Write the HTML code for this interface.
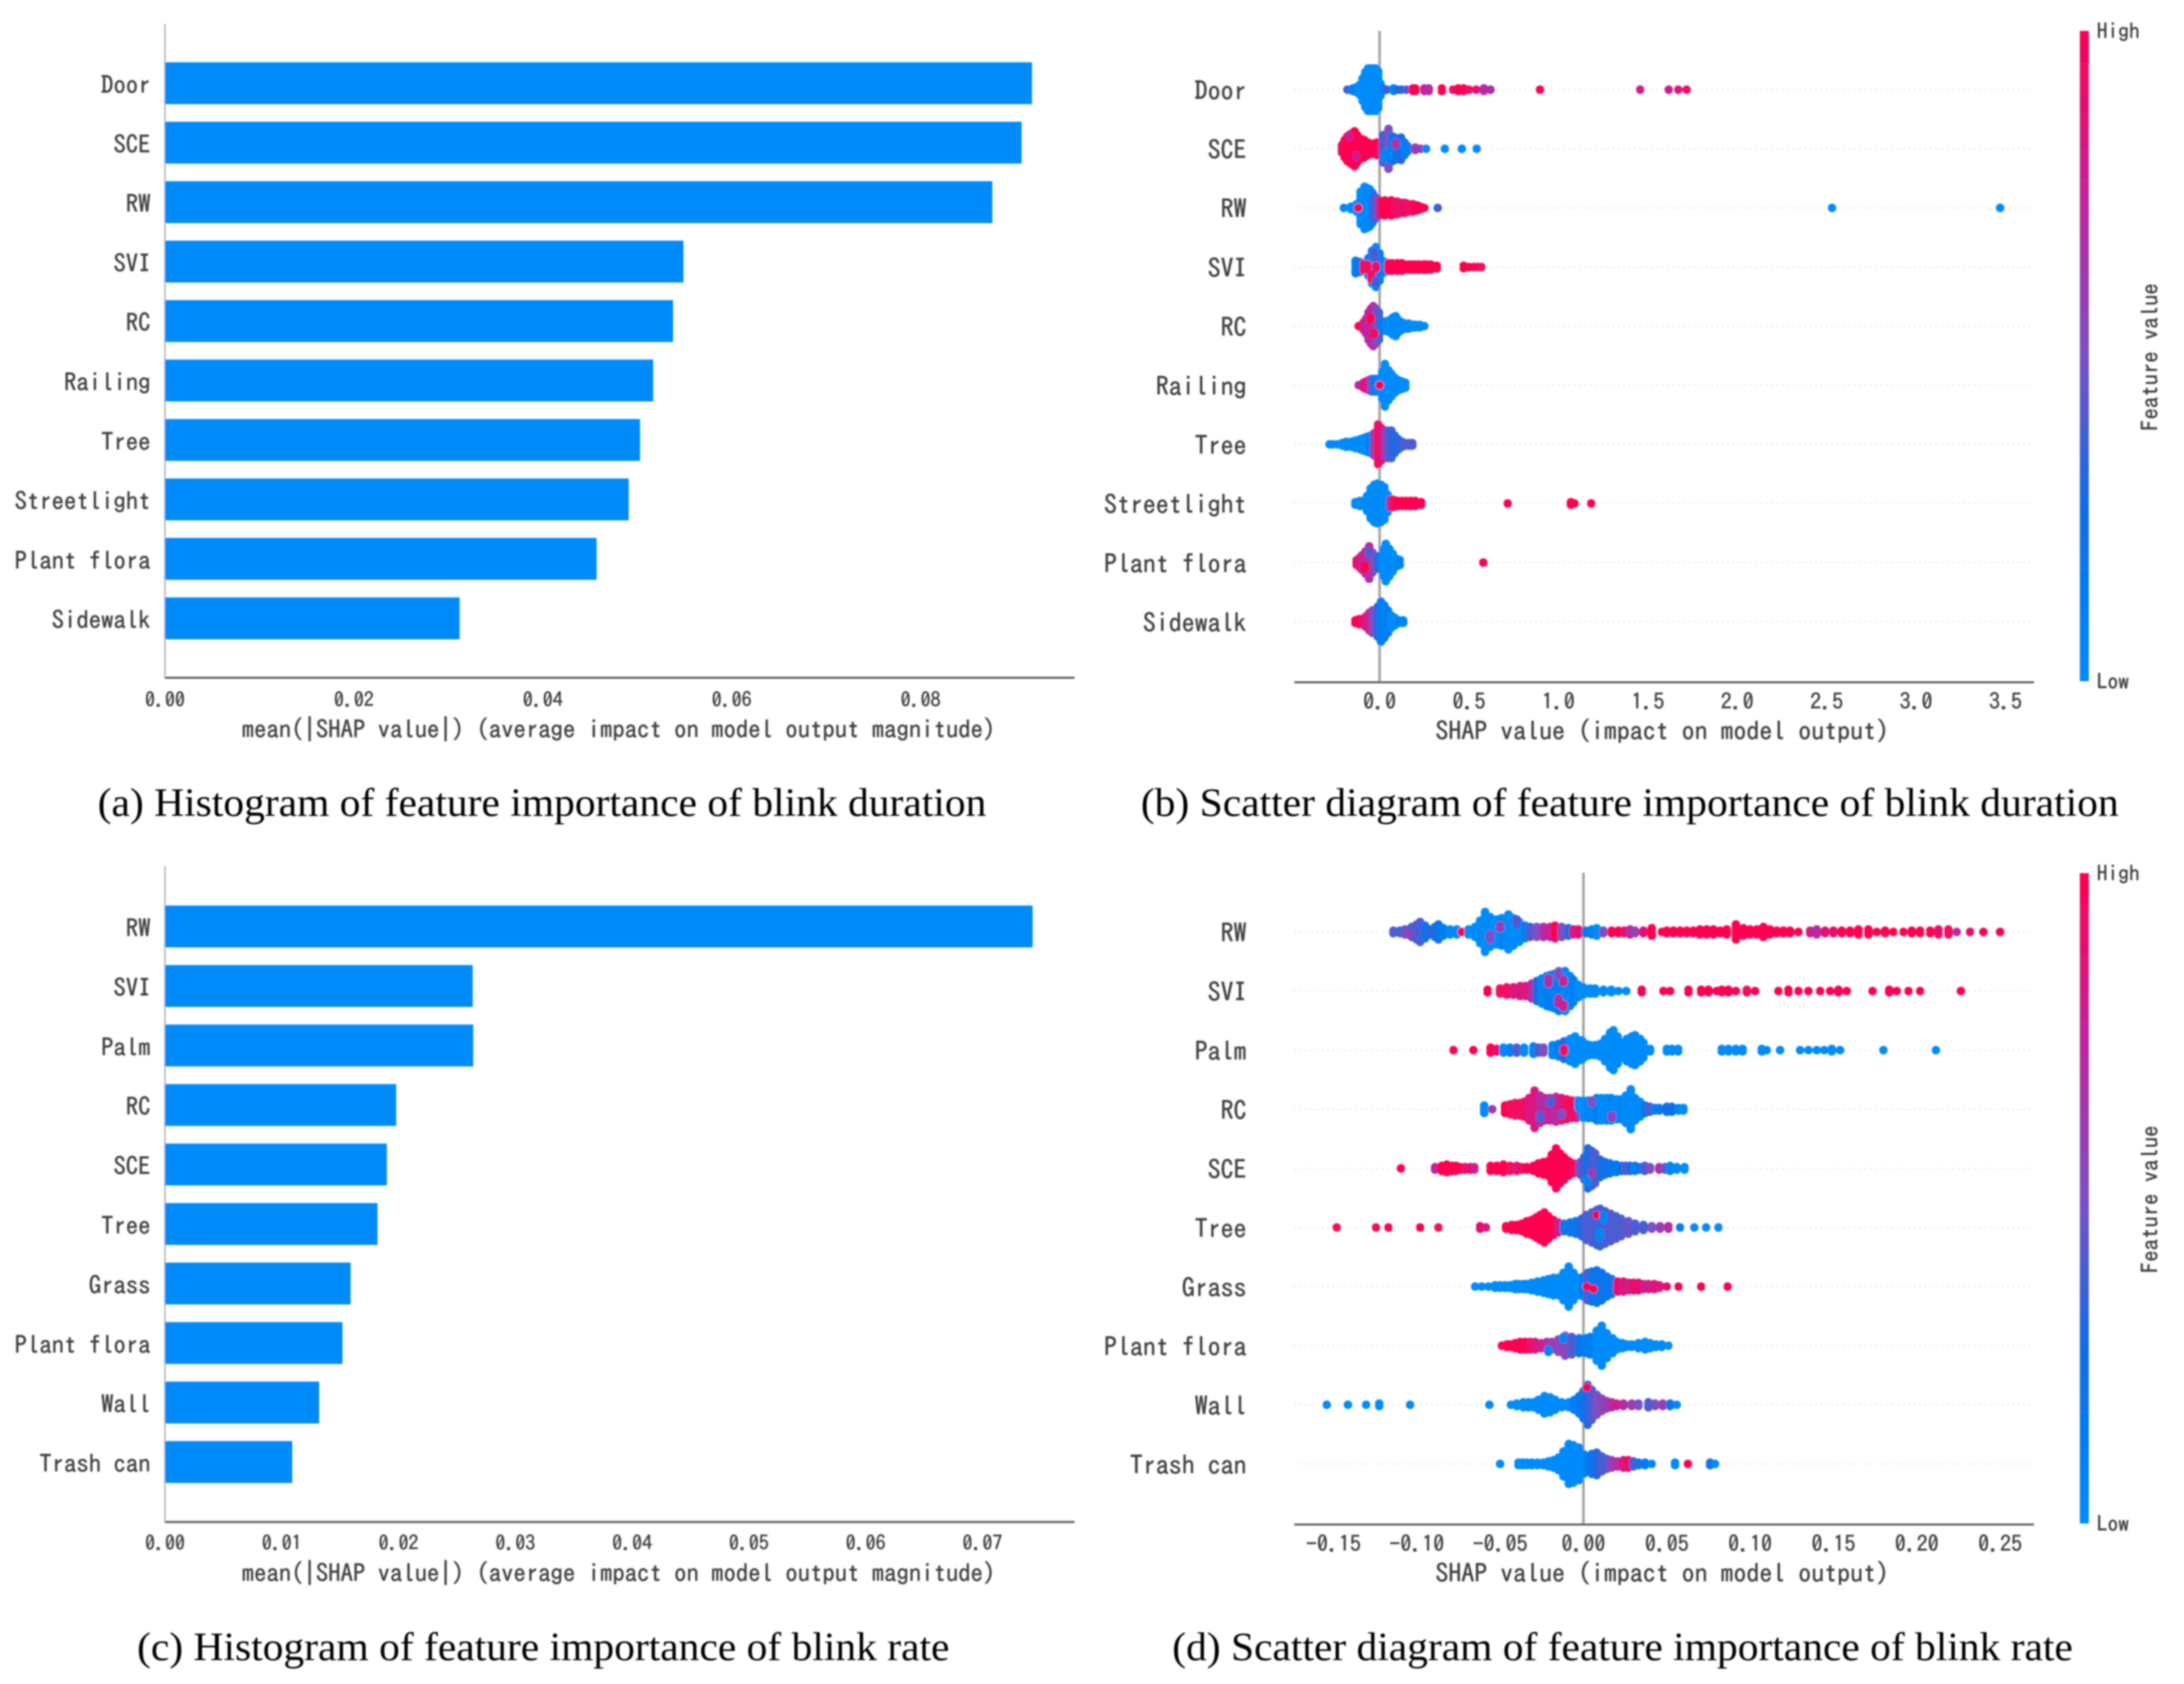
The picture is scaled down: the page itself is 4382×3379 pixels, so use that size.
<!DOCTYPE html>
<html>
<head>
<meta charset="utf-8">
<title>SHAP feature importance of blink duration and blink rate</title>
<style>
html,body{margin:0;padding:0;background:#fff;width:4382px;height:3379px;overflow:hidden}
svg{display:block}
.lab{font-family:"IPAGothic","WenQuanYi Zen Hei","Liberation Mono",monospace;fill:#404040;stroke:#404040;stroke-width:.8px}
.cap{font-family:"Liberation Serif",serif;font-size:80px;fill:#000}
</style>
</head>
<body>
<svg id="figure" xmlns="http://www.w3.org/2000/svg" width="4382" height="3379" viewBox="0 0 4382 3379">
<defs>
<linearGradient id="cbar" x1="0" y1="1" x2="0" y2="0">
<stop offset="0" stop-color="#008bfb"/><stop offset="0.25" stop-color="#0a6ee8"/><stop offset="0.5" stop-color="#7c4fc4"/><stop offset="0.75" stop-color="#c4239a"/><stop offset="1" stop-color="#ff0051"/>
</linearGradient>
<filter id="soft" x="-2%" y="-2%" width="104%" height="104%"><feGaussianBlur stdDeviation="1.6"/></filter>
</defs>
<g id="root" filter="url(#soft)">
<text class="lab" x="1241" y="1481" font-size="49.6" text-anchor="middle" textLength="1512" lengthAdjust="spacingAndGlyphs">mean(|SHAP value|) (average impact on model output magnitude)</text>
<text class="lab" x="1241" y="3174" font-size="49.6" text-anchor="middle" textLength="1512" lengthAdjust="spacingAndGlyphs">mean(|SHAP value|) (average impact on model output magnitude)</text>
<text class="lab" x="3335" y="1485" font-size="51" text-anchor="middle" textLength="910" lengthAdjust="spacingAndGlyphs">SHAP value (impact on model output)</text>
<text class="lab" x="3335" y="3175" font-size="51" text-anchor="middle" textLength="910" lengthAdjust="spacingAndGlyphs">SHAP value (impact on model output)</text>
<text class="cap" x="196" y="1637" textLength="1783" lengthAdjust="spacingAndGlyphs">(a) Histogram of feature importance of blink duration</text>
<text class="cap" x="2289" y="1637" textLength="1962" lengthAdjust="spacingAndGlyphs">(b) Scatter diagram of feature importance of blink duration</text>
<text class="cap" x="275" y="3331" textLength="1630" lengthAdjust="spacingAndGlyphs">(c) Histogram of feature importance of blink rate</text>
<text class="cap" x="2352" y="3331" textLength="1807" lengthAdjust="spacingAndGlyphs">(d) Scatter diagram of feature importance of blink rate</text>
</g>
</svg>
<script>
const panelACategories = ["Door","SCE","RW","SVI","RC","Railing","Tree","Streetlight","Plant flora","Sidewalk"];
const panelAValues = [0.0918,0.0907,0.0876,0.0549,0.0538,0.0517,0.0503,0.0491,0.0457,0.0312];
const panelATicks = [0,0.02,0.04,0.06,0.08];
const panelATickLabels = ["0.00","0.02","0.04","0.06","0.08"];

const panelCCategories = ["RW","SVI","Palm","RC","SCE","Tree","Grass","Plant flora","Wall","Trash can"];
const panelCValues = [0.0743,0.02635,0.0264,0.0198,0.0190,0.0182,0.0159,0.0152,0.0132,0.0109];
const panelCTicks = [0,0.01,0.02,0.03,0.04,0.05,0.06,0.07];
const panelCTickLabels = ["0.00","0.01","0.02","0.03","0.04","0.05","0.06","0.07"];

const panelBCategories = ["Door","SCE","RW","SVI","RC","Railing","Tree","Streetlight","Plant flora","Sidewalk"];
const panelBTicks = [0,0.5,1,1.5,2,2.5,3,3.5];
const panelBTickLabels = ["0.0","0.5","1.0","1.5","2.0","2.5","3.0","3.5"];
/* each point group: [shap value, dots stacked in the swarm, feature value 0-1, optional swarm layer] */
const panelBDoor = [[-0.18,1,.35],[-0.15,2,.1],[-0.13,3,.05],[-0.11,5,0],[-0.095,10,0],[-0.08,15,0],[-0.065,18,0],[-0.05,18,0],[-0.035,18,0],[-0.02,18,0],[-0.008,16,0],[0.005,6,0],[0.02,2,.1],[0.04,1,.35],[0.078,2,.05],[0.1,1,.3],[0.122,1,.3],[0.15,1,.4],[0.186,2,1],[0.2,2,1],[0.25,2,.75],[0.275,2,.7],[0.348,2,1],[0.41,1,.95],[0.44,2,1],[0.47,2,1],[0.5,1,.95],[0.54,1,.9],[0.583,2,.7],[0.62,1,.7],[0.897,1,1],[1.457,1,.8],[1.617,1,.8],[1.67,1,.85],[1.717,1,.95]];
const panelBSCE = [[-0.21,4,.9],[-0.195,8,1],[-0.18,11,1],[-0.16,13,1],[-0.14,15,1],[-0.125,12,1],[-0.105,9,1],[-0.085,8,1],[-0.065,6,1],[-0.04,5,1],[-0.015,6,1],[0,5,.95],[0.02,12,.4],[0.05,17,.5],[0.07,11,.2],[0.085,10,.25],[0.1,9,.2],[0.12,10,.3],[0.14,6,.1],[0.157,3,.1],[0.2,2,.6],[0.23,1,.6],[0.26,1,0],[0.365,1,0],[0.46,1,0],[0.543,1,0],[0.05,3,.05,2],[0.09,2,.65,-2],[0.03,3,.05,3],[-0.17,2,.8,-5],[-0.13,2,.8,3]];
const panelBRW = [[-0.2,1,0],[-0.16,2,0],[-0.128,4,0],[-0.106,14,0],[-0.084,18,0],[-0.07,17,0],[-0.055,16,0],[-0.04,13,.1],[-0.027,10,.35],[-0.01,8,.5],[0,7,.7],[0.015,6,1],[0.03,7,1],[0.045,6,1],[0.065,7,1],[0.085,6,.95],[0.1,6,.95],[0.125,5,.9],[0.143,5,.9],[0.165,4,.95],[0.186,4,.95],[0.21,3,1],[0.228,2,1],[0.25,1,1],[0.325,1,.35],[-0.12,1,1],[2.53,1,0],[3.47,1,0]];
const panelBSVI = [[-0.134,6,.1],[-0.11,5,.2],[-0.087,4,.95],[-0.063,8,.1],[-0.042,14,.1],[-0.02,17,.05],[0,12,.1],[0.015,6,.1],[0.03,5,.1],[-0.07,3,.95,0],[-0.02,2,.9,0],[-0.03,3,.4,-5],[-0.045,3,.95,4],[-0.02,2,.35,6],[0.05,4,1],[0.07,4,1],[0.1,4,1],[0.125,4,1],[0.14,3,1],[0.165,3,1],[0.18,3,1],[0.2,3,1],[0.22,3,1],[0.245,3,1],[0.26,3,1],[0.285,3,1],[0.3,2,1],[0.32,2,1],[0.47,2,1],[0.5,1,1],[0.527,1,1],[0.55,1,1],[0.57,1,.95]];
const panelBRC = [[-0.117,1,1],[-0.09,4,.8],[-0.075,7,.8],[-0.062,12,.7],[-0.048,15,.75],[-0.035,17,.7],[-0.02,15,.55],[-0.004,12,.4],[0.012,5,.2],[0.027,4,.1],[0.042,5,0],[0.058,6,0],[0.075,8,0],[0.09,9,0],[0.105,6,0],[0.125,4,0],[0.145,3,0],[0.163,3,0],[0.185,2,0],[0.2,2,0],[0.225,2,0],[0.25,1,0],[-0.05,2,1,-3],[-0.03,2,.95,3]];
const panelBRailing = [[-0.117,1,.7],[-0.09,3,.85],[-0.075,4,.85],[-0.06,5,.8],[-0.045,6,.5],[-0.03,6,.2],[-0.012,6,.05],[0,6,.05],[0.015,12,0],[0.03,18,0],[0.05,13,0],[0.066,10,0],[0.085,7,0],[0.105,5,0],[0.125,4,0],[0.144,3,0],[0,1,1]];
const panelBTree = [[-0.28,1,0],[-0.265,1,0],[-0.24,1,0],[-0.21,2,0],[-0.187,3,0],[-0.16,3,0],[-0.136,4,0],[-0.11,5,0],[-0.09,6,0],[-0.07,7,0],[-0.05,8,.1],[-0.03,10,.6],[-0.008,17,.95],[0.01,14,.9],[0.027,12,.7],[0.045,12,.45],[0.066,12,.35],[0.085,8,.3],[0.105,5,.3],[0.125,3,.35],[0.144,2,.4],[0.165,2,.4],[0.183,2,.4]];
const panelBStreetlight = [[-0.136,2,0],[-0.11,3,0],[-0.09,3,0],[-0.07,7,0],[-0.05,13,0],[-0.03,16,0],[-0.012,17,0],[0.008,16,0],[0.027,14,0],[0.045,8,0],[0.06,4,.6],[0.074,4,.95],[0.1,3,1],[0.125,3,1],[0.15,3,1],[0.175,3,1],[0.2,3,1],[0.233,2,1],[0.716,1,1],[1.07,2,1],[1.09,1,1],[1.183,1,1]];
const panelBPlantFlora = [[-0.128,3,.9],[-0.11,5,.85],[-0.097,7,.8],[-0.078,10,.75],[-0.058,14,.7],[-0.04,9,.6],[-0.023,6,.5],[-0.008,6,.3],[0.008,6,.1],[0.022,12,0],[0.035,16,0],[0.055,12,0],[0.074,8,0],[0.095,4,0],[0.113,3,.05],[0.58,1,1],[-0.08,2,1,2],[-0.06,2,.4,-4]];
const panelBSidewalk = [[-0.136,2,1],[-0.115,3,1],[-0.097,3,.9],[-0.078,5,.85],[-0.058,8,.8],[-0.04,10,.6],[-0.027,10,.5],[-0.01,13,.3],[0.008,17,.1],[0.027,14,.1],[0.047,10,.1],[0.065,6,0],[0.086,4,0],[0.11,2,.05],[0.132,2,.05]];
const panelBRows = [panelBDoor,panelBSCE,panelBRW,panelBSVI,panelBRC,panelBRailing,panelBTree,panelBStreetlight,panelBPlantFlora,panelBSidewalk];

const panelDCategories = ["RW","SVI","Palm","RC","SCE","Tree","Grass","Plant flora","Wall","Trash can"];
const panelDTicks = [-0.15,-0.10,-0.05,0,0.05,0.10,0.15,0.20,0.25];
const panelDTickLabels = ["-0.15","-0.10","-0.05","0.00","0.05","0.10","0.15","0.20","0.25"];
const panelDRW = [[-0.114,2,.4],[-0.11,2,.4],[-0.107,3,.45],[-0.103,5,.4],[-0.1,7,.4],[-0.098,9,.4],[-0.095,6,.2],[-0.092,3,.3],[-0.089,5,.3],[-0.087,7,.2],[-0.084,4,.1],[-0.08,3,0],[-0.076,3,0],[-0.073,1,1],[-0.069,3,0],[-0.065,5,0],[-0.062,10,0],[-0.059,17,0],[-0.056,13,0],[-0.052,11,0],[-0.049,12,.05],[-0.045,15,0],[-0.042,12,0],[-0.0385,9,0],[-0.035,6,.1],[-0.032,5,.4],[-0.028,5,.5],[-0.024,5,.7],[-0.02,5,.75],[-0.017,6,1],[-0.013,5,.5],[-0.009,4,.3],[-0.006,3,.8],[-0.003,3,.9],[0.0015,2,.2],[0.005,3,.1],[0.008,4,0],[0.012,2,.5],[0.017,2,1],[0.021,2,1],[0.0245,2,.9],[0.028,3,.7],[0.031,2,.6],[0.036,2,.9],[0.041,4,1],[0.047,1,1],[0.05,2,1],[0.054,2,1],[0.058,2,1],[0.062,2,1],[0.066,2,1],[0.07,3,1],[0.074,3,1],[0.078,3,1],[0.082,2,1],[0.086,3,1],[0.0915,7,1],[0.096,4,1],[0.1,3,1],[0.104,3,1],[0.108,5,1],[0.112,3,1],[0.116,2,1],[0.12,2,1],[0.124,2,1],[0.129,1,1],[0.136,2,.8],[0.14,3,.7],[0.145,2,.9],[0.15,2,.9],[0.155,2,1],[0.16,2,1],[0.165,3,1],[0.171,3,1],[0.176,1,1],[0.181,2,1],[0.186,1,1],[0.192,1,1],[0.197,2,1],[0.202,2,1],[0.208,2,1],[0.213,3,.9],[0.219,3,.95],[0.224,1,.7],[0.232,1,.9],[0.24,1,1],[0.25,1,1],[-0.056,3,.5,2],[-0.04,3,.4,-4],[-0.05,2,.6,-2],[-0.105,1,.6,1]];
const panelDSVI = [[-0.0575,2,1],[-0.05,3,.95],[-0.046,4,.95],[-0.042,4,.85],[-0.038,5,.85],[-0.0347,5,.85],[-0.031,7,.7],[-0.028,9,.3],[-0.025,11,.05],[-0.022,13,.1],[-0.0195,14,.1],[-0.017,15,.1],[-0.0147,17,.1],[-0.011,17,.05],[-0.008,13,.05],[-0.006,10,.1],[-0.003,6,0],[0,4,0],[0.004,3,0],[0.007,3,0],[0.012,2,0],[0.0167,2,0],[0.021,1,0],[0.0257,1,0],[-0.015,3,.7,4],[-0.012,2,.75,-4],[-0.021,3,.7,-4],[-0.012,2,.8,6],[-0.015,2,.55,-7],[0.035,2,1],[0.048,1,1],[0.052,1,1],[0.063,2,1],[0.0706,2,1],[0.075,2,1],[0.08,1,1],[0.083,2,1],[0.087,2,1],[0.0915,1,1],[0.098,2,.95],[0.103,1,1],[0.117,1,1],[0.123,2,1],[0.129,1,1],[0.135,1,1],[0.142,1,1],[0.148,1,1],[0.153,2,1],[0.158,1,1],[0.1735,1,1],[0.1835,2,1],[0.188,1,1],[0.195,1,1],[0.202,1,1],[0.2265,1,1]];
const panelDPalm = [[-0.078,1,1],[-0.066,1,1],[-0.0557,3,1],[-0.052,2,.9],[-0.048,3,0],[-0.044,3,.1],[-0.04,3,.4],[-0.0356,3,0],[-0.03,4,.05],[-0.027,3,.4],[-0.024,3,.5],[-0.0185,5,.05],[-0.015,6,.1],[-0.0117,8,.3],[-0.008,10,0],[-0.005,12,0],[-0.001,9,0],[0.0015,6,0],[0.004,5,0],[0.007,5,0],[0.01,6,0],[0.013,10,0],[0.016,15,0],[0.018,17,0],[0.0205,12,0],[0.0225,7,0],[0.026,10,0],[0.029,12,0],[0.031,13,0],[0.034,10,0],[0.036,7,0],[0.04,2,0],[0.05,2,0],[0.053,2,0],[0.0568,2,0],[-0.0117,2,.95,0],[0.083,2,0],[0.087,2,0],[0.0915,2,0],[0.0955,2,0],[0.107,2,0],[0.11,1,0],[0.118,1,0],[0.13,1,0],[0.135,1,0],[0.14,1,0],[0.1445,1,0],[0.149,2,0],[0.154,1,0],[0.18,1,0],[0.2115,1,0]];
const panelDRC = [[-0.0595,4,0],[-0.0547,1,.6],[-0.047,4,1],[-0.044,5,.95],[-0.041,6,.95],[-0.038,6,.95],[-0.0356,7,.95],[-0.0325,10,.85],[-0.0293,16,.85],[-0.026,12,.7],[-0.023,10,.7],[-0.02,10,.75],[-0.0164,11,.7],[-0.013,10,.85],[-0.01,9,.95],[-0.007,8,.95],[-0.004,8,.9],[-0.002,7,.6],[0,8,0],[0.003,8,.05],[0.0054,8,.05],[0.008,10,.1],[0.011,10,0],[0.014,10,0],[0.0167,10,.05],[0.02,9,0],[0.0227,9,.05],[0.0255,12,0],[0.0284,17,0],[0.031,10,0],[0.034,7,0],[0.037,4,.2],[0.04,3,.4],[0.043,2,.1],[0.0455,2,.2],[0.05,3,.25],[0.053,3,.25],[0.057,2,.05],[0.06,2,0],[-0.026,2,.4,3],[-0.02,2,.4,-3],[-0.013,2,.5,2],[0.005,2,.5,-3],[0.017,2,.55,3],[-0.003,4,0,-2]];
const panelDSCE = [[-0.1095,1,1],[-0.089,2,.75],[-0.085,3,1],[-0.082,4,1],[-0.079,3,1],[-0.0765,3,1],[-0.074,2,1],[-0.071,2,.95],[-0.068,2,.9],[-0.0655,2,.8],[-0.0557,3,1],[-0.052,3,1],[-0.048,4,1],[-0.044,3,.95],[-0.04,3,.85],[-0.037,2,.95],[-0.034,2,1],[-0.03,3,1],[-0.027,5,1],[-0.024,6,1],[-0.021,7,1],[-0.019,12,1],[-0.0164,17,1],[-0.014,13,1],[-0.0117,10,1],[-0.009,7,1],[-0.006,5,.95],[-0.002,6,.45],[0.0005,10,.35],[0.0027,17,.25],[0.005,15,.35],[0.007,13,.4],[0.01,8,.3],[0.013,6,.2],[0.016,5,.2],[0.0197,4,.15],[0.023,3,.25],[0.0254,3,.4],[0.028,3,.3],[0.031,3,.1],[0.034,2,.2],[0.0368,3,.4],[0.04,2,.5],[0.0455,2,.7],[0.049,2,.4],[0.052,3,.05],[0.056,2,0],[0.0607,2,0],[0.005,2,.6,2],[0.002,2,.05,5]];
const panelDTree = [[-0.148,1,.95],[-0.1245,1,.95],[-0.117,1,1],[-0.098,1,1],[-0.087,1,.95],[-0.062,2,.9],[-0.0585,1,.85],[-0.0464,2,1],[-0.043,3,1],[-0.04,3,1],[-0.037,4,1],[-0.034,6,1],[-0.031,7,1],[-0.0284,9,1],[-0.026,11,1],[-0.0234,13,1],[-0.021,10,1],[-0.018,7,1],[-0.015,5,.8],[-0.0117,4,.2],[-0.008,5,.2],[-0.0046,6,.2],[-0.001,8,.3],[0.0017,11,.4],[0.005,13,.4],[0.008,15,.35],[0.01,16,.35],[0.013,14,.4],[0.0163,12,.4],[0.0195,10,.4],[0.0226,8,.4],[0.027,6,.45],[0.031,4,.4],[0.036,3,.4],[0.041,2,.5],[0.046,2,.6],[0.051,2,.7],[0.058,1,.1],[0.0665,1,0],[0.0736,1,0],[0.081,1,0],[0.01,3,.05,3],[0.008,1,1,-5],[0.012,3,.05,-4]];
const panelDGrass = [[-0.065,1,0],[-0.061,1,0],[-0.057,1,0],[-0.053,2,0],[-0.05,2,0],[-0.047,2,0],[-0.044,2,0],[-0.041,3,0],[-0.039,3,0],[-0.036,3,0],[-0.034,3,0],[-0.031,4,0],[-0.0276,5,0],[-0.024,6,0],[-0.021,7,0],[-0.018,8,0],[-0.015,8,0],[-0.012,12,0],[-0.0088,17,0],[-0.006,12,0],[-0.0033,8,0],[0,9,.1],[0.0025,12,.4],[0.005,13,.2],[0.008,14,.2],[0.011,12,.2],[0.014,9,.2],[0.017,7,.2],[0.0205,5,.9],[0.024,5,.85],[0.027,4,.8],[0.03,4,.9],[0.033,4,.9],[0.036,3,.8],[0.039,3,.8],[0.0425,3,.85],[0.0456,2,.85],[0.05,1,.9],[0.057,1,1],[0.0706,1,1],[0.0865,1,1],[0.002,1,1,0],[0.006,1,1,1]];
const panelDPlantFlora = [[-0.049,1,1],[-0.046,2,1],[-0.044,2,1],[-0.041,3,1],[-0.038,4,1],[-0.035,4,1],[-0.032,4,.95],[-0.029,4,.85],[-0.0255,3,.8],[-0.022,4,.7],[-0.019,4,.6],[-0.015,6,.55],[-0.011,9,.55],[-0.007,8,.4],[-0.0025,7,.2],[0.001,7,.1],[0.004,8,.1],[0.008,13,0],[0.011,17,0],[0.014,11,0],[0.0175,7,0],[0.02,4,0],[0.0234,3,0],[0.026,2,0],[0.029,2,0],[0.033,3,0],[0.037,4,0],[0.04,3,0],[0.0435,2,0],[0.047,2,0],[0.051,1,0],[-0.021,2,.05,2],[-0.012,2,.05,-3]];
const panelDWall = [[-0.154,1,0],[-0.1413,1,0],[-0.1304,1,0],[-0.1225,2,0],[-0.104,1,0],[-0.0564,1,0],[-0.0435,1,0],[-0.04,2,0],[-0.036,3,0],[-0.033,3,0],[-0.03,3,0],[-0.027,5,0],[-0.0234,8,0],[-0.02,7,0],[-0.017,5,0],[-0.013,3,0],[-0.0088,3,0],[-0.0055,5,.1],[-0.0025,8,.15],[0,12,.2],[0.0025,17,.3],[0.005,13,.4],[0.008,9,.5],[0.011,6,.55],[0.014,4,.6],[0.017,3,.7],[0.02,2,.8],[0.024,2,.7],[0.029,2,.6],[0.033,2,.5],[0.039,3,.4],[0.043,2,.5],[0.0476,2,.6],[0.052,2,.2],[0.056,1,0],[0.002,1,1,-7]];
const panelDTrashCan = [[-0.05,1,0],[-0.039,2,0],[-0.0365,2,0],[-0.034,2,0],[-0.031,2,0],[-0.0276,2,0],[-0.024,2,0],[-0.021,3,0],[-0.018,4,0],[-0.015,6,0],[-0.012,11,0],[-0.0088,17,0],[-0.006,16,0],[-0.0025,14,0],[0,9,0],[0.0025,7,.1],[0.005,9,.2],[0.008,10,.3],[0.011,7,.4],[0.014,5,.4],[0.017,4,.6],[0.0205,3,.7],[0.024,4,.85],[0.027,4,.9],[0.03,3,.4],[0.033,2,.2],[0.037,2,.1],[0.041,1,.05],[0.055,2,0],[0.0627,1,1],[0.076,2,.2],[0.079,1,0]];
const panelDRows = [panelDRW,panelDSVI,panelDPalm,panelDRC,panelDSCE,panelDTree,panelDGrass,panelDPlantFlora,panelDWall,panelDTrashCan];

const NS = "http://www.w3.org/2000/svg";
const root = document.getElementById("root");
const makeScale = (origin, perUnit) => v => origin + v * perUnit;
const colorStops = [[0,0,139,251],[0.25,10,110,232],[0.5,124,79,196],[0.75,196,35,154],[1,255,0,81]];
function featureColor(t){
  for(let i=1;i<colorStops.length;i++){
    if(t<=colorStops[i][0]){
      const a=colorStops[i-1], b=colorStops[i], f=(t-a[0])/(b[0]-a[0]);
      return "rgb("+[1,2,3].map(k=>Math.round(a[k]+(b[k]-a[k])*f)).join(",")+")";
    }
  }
  return "rgb(255,0,81)";
}
function shape(tag, attrs, parent){
  const el=document.createElementNS(NS,tag);
  for(const k in attrs){el.setAttribute(k,attrs[k]);}
  (parent||root).appendChild(el);
  return el;
}
function axisLine(x1,y1,x2,y2,color,width,name){
  const el=shape("line",{x1:x1,y1:y1,x2:x2,y2:y2,stroke:color,"stroke-width":width});
  
  
}
function label(x,y,txt,size,anchor,name){
  const el=shape("text",{class:"lab",x:x,y:y,"font-size":size,"text-anchor":anchor});
  el.textContent=txt;
  
  
  return el;
}
function drawXTicks(ticks,tickLabels,xs,yBase,size,name){
  ticks.forEach((t,i)=>{
    label(xs(t),yBase,tickLabels[i],size,"middle",name);
  });
}
function drawBarPanel(categories,values,ticks,tickLabels,xs,ys,barH,axisTop,axisY,axisRight,tickY,prefix){
  axisLine(xs(0),axisTop,xs(0),axisY,"#b4b4b4",3,prefix+"-y-axis");
  axisLine(xs(0),axisY,axisRight,axisY,"#5a5a5a",4,prefix+"-x-axis");
  categories.forEach((c,i)=>{
    const bar=shape("rect",{x:xs(0),y:ys(i)-barH/2,width:xs(values[i])-xs(0),height:barH,fill:"#008bfb"});
    
    
    label(302,ys(i)+21,c,49.6,"end",prefix+"-category-label");
  });
  drawXTicks(ticks,tickLabels,xs,tickY,40,prefix+"-x-tick-label");
}
function drawSwarmPanel(categories,rows,ticks,tickLabels,xs,ys,axisTop,axisY,axisLeft,axisRight,tickY,barTop,barBottom,prefix){
  const labelRight=2501;
  categories.forEach((c,i)=>{
    const guide=shape("line",{x1:axisLeft,x2:axisRight,y1:ys(i),y2:ys(i),stroke:"#e6e6e6","stroke-width":3,"stroke-dasharray":"3 8"});
    
    
    label(labelRight,ys(i)+21,c,52,"end",prefix+"-feature-label");
  });
  axisLine(xs(0),axisTop,xs(0),axisY,"#a0a0a0",5,prefix+"-zero-line");
  axisLine(axisLeft,axisY,axisRight,axisY,"#5a5a5a",4,prefix+"-x-axis");
  const spacing=5;
  rows.forEach((row,i)=>{
    row.forEach(g=>{
      const lift=g[3]||0;
      for(let k=0;k<g[1];k++){
        const dot=shape("circle",{cx:xs(g[0]),cy:ys(i)+(k-(g[1]-1)/2+lift)*spacing,r:8.6,fill:featureColor(g[2])});
        
        
      }
    });
  });
  drawXTicks(ticks,tickLabels,xs,tickY,44,prefix+"-x-tick-label");
  const cb=shape("rect",{x:4173,y:barTop,width:18,height:barBottom-barTop,fill:"url(#cbar)"});
  
  
  label(4207,barTop+16,"High",43,"start",prefix+"-colorbar-high");
  label(4207,barBottom+16,"Low",43,"start",prefix+"-colorbar-low");
  const mid=(barTop+barBottom)/2;
  const ft=label(0,0,"Feature value",46,"middle",prefix+"-colorbar-title");
  ft.setAttribute("transform","translate(4330,"+(mid+2)+") rotate(-90)");
  ft.setAttribute("textLength","296");
  ft.setAttribute("lengthAdjust","spacingAndGlyphs");
}
drawBarPanel(panelACategories,panelAValues,panelATicks,panelATickLabels,makeScale(331,18950),makeScale(167,119.3),84,48,1360,2156,1418,"panel-a");
drawBarPanel(panelCCategories,panelCValues,panelCTicks,panelCTickLabels,makeScale(331,23430),makeScale(1859,119.4),84,1738,3054,2156,3110,"panel-c");
drawSwarmPanel(panelBCategories,panelBRows,panelBTicks,panelBTickLabels,makeScale(2768,358.8),makeScale(180,118.6),62,1369,2597,4081,1423,62,1367,"panel-b");
drawSwarmPanel(panelDCategories,panelDRows,panelDTicks,panelDTickLabels,makeScale(3177,3344),makeScale(1870,118.6),1751,3059,2597,4081,3113,1752,3057,"panel-d");
</script>
</body>
</html>
